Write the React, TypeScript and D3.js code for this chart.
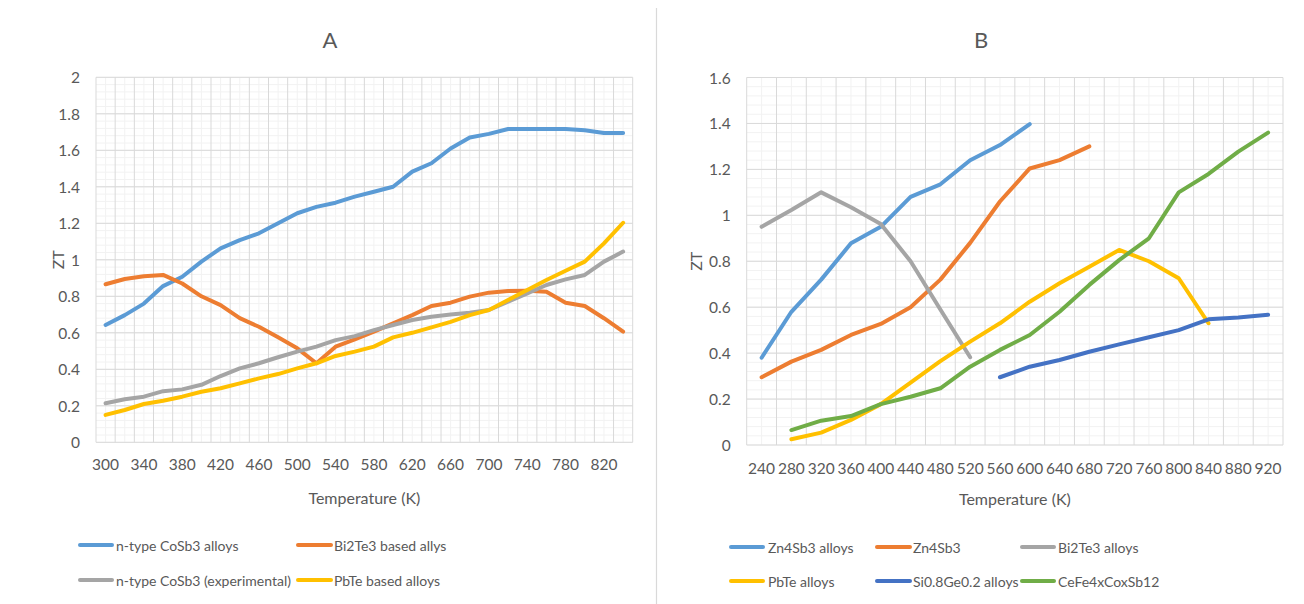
import React from "react";
import * as d3 from "d3";

// ---------- Panel A data ----------
const catsA: number[] = [300, 320, 340, 360, 380, 400, 420, 440, 460, 480, 500, 520, 540, 560, 580, 600, 620, 640, 660, 680, 700, 720, 740, 760, 780, 800, 820, 840];
const coSb3Alloys: number[] = [0.643, 0.697, 0.76, 0.856, 0.907, 0.99, 1.063, 1.108, 1.145, 1.2, 1.255, 1.29, 1.313, 1.346, 1.373, 1.4, 1.483, 1.529, 1.61, 1.67, 1.69, 1.717, 1.717, 1.717, 1.717, 1.71, 1.695, 1.695];
const bi2te3Based: number[] = [0.866, 0.895, 0.91, 0.917, 0.87, 0.8, 0.752, 0.68, 0.633, 0.575, 0.515, 0.433, 0.524, 0.564, 0.606, 0.652, 0.697, 0.747, 0.765, 0.798, 0.82, 0.829, 0.83, 0.825, 0.765, 0.747, 0.68, 0.606];
const coSb3Exp: number[] = [0.214, 0.236, 0.25, 0.28, 0.29, 0.315, 0.363, 0.405, 0.433, 0.466, 0.497, 0.524, 0.56, 0.582, 0.615, 0.643, 0.67, 0.688, 0.7, 0.71, 0.725, 0.77, 0.816, 0.862, 0.893, 0.917, 0.99, 1.045];
const pbteBased: number[] = [0.15, 0.177, 0.21, 0.228, 0.25, 0.277, 0.296, 0.323, 0.35, 0.374, 0.405, 0.433, 0.473, 0.497, 0.524, 0.575, 0.6, 0.63, 0.66, 0.697, 0.725, 0.78, 0.834, 0.889, 0.94, 0.99, 1.09, 1.203];
const yTicksA: number[] = [0, 0.2, 0.4, 0.6, 0.8, 1, 1.2, 1.4, 1.6, 1.8, 2];

// ---------- Panel B data ----------
const catsB: number[] = [240, 280, 320, 360, 400, 440, 480, 520, 560, 600, 640, 680, 720, 760, 800, 840, 880, 920];
const zn4sb3Alloys: (number | null)[] = [0.38, 0.58, 0.72, 0.878, 0.95, 1.08, 1.135, 1.24, 1.306, 1.397, null, null, null, null, null, null, null, null];
const zn4sb3: (number | null)[] = [0.295, 0.363, 0.414, 0.479, 0.527, 0.6, 0.72, 0.88, 1.06, 1.204, 1.24, 1.3, null, null, null, null, null, null];
const bi2te3Alloys: (number | null)[] = [0.95, 1.023, 1.1, 1.035, 0.962, 0.8, 0.59, 0.382, null, null, null, null, null, null, null, null, null, null];
const pbteAlloys: (number | null)[] = [null, 0.025, 0.054, 0.109, 0.178, 0.272, 0.365, 0.45, 0.53, 0.624, 0.704, 0.776, 0.849, 0.8, 0.726, 0.53, null, null];
const siGeAlloys: (number | null)[] = [null, null, null, null, null, null, null, null, 0.295, 0.341, 0.37, 0.406, 0.438, 0.469, 0.5, 0.547, 0.555, 0.567];
const ceFeCoSb: (number | null)[] = [null, 0.065, 0.106, 0.126, 0.178, 0.21, 0.247, 0.341, 0.414, 0.479, 0.58, 0.697, 0.805, 0.9, 1.1, 1.18, 1.277, 1.36];
const yTicksB: number[] = [0, 0.2, 0.4, 0.6, 0.8, 1, 1.2, 1.4, 1.6];

const FONT = "Lato, 'Open Sans', sans-serif";
const TXT = "#595959";
const MAJOR = "#d9d9d9";
const MINOR = "#f2f2f2";

type Series = { name: string; color: string; values: (number | null)[] };

interface PanelProps {
  title: string;
  titleX: number;
  cats: number[];
  series: Series[];
  yMax: number;
  yTicks: number[];
  left: number;
  right: number;
  top: number;
  bottom: number;
  labelEvery: number;
  xLabelY: number;
  xTitleY: number;
  ztX: number;
  legend: { x0: number; x1: number; tx: number; y: number }[];
}

function Panel(p: PanelProps) {
  const x = d3.scaleBand<number>().domain(p.cats).range([p.left, p.right]).padding(0);
  const y = d3.scaleLinear().domain([0, p.yMax]).range([p.bottom, p.top]);
  const bw = x.bandwidth();
  const minorTicks = d3.range(0, p.yMax + 1e-9, 0.04).map((v) => +v.toFixed(2));
  const line = d3
    .line<number | null>()
    .defined((d) => d !== null)
    .x((_, i) => (x(p.cats[i]) as number) + bw / 2)
    .y((d) => y(d as number));

  const boundaries = p.cats.map((c) => x(c) as number).concat([p.right]);

  return (
    <g>
      <text x={p.titleX} y={39} textAnchor="middle" dominantBaseline="central" fontSize={22} fill={TXT} fontFamily={FONT}>
        {p.title}
      </text>
      {minorTicks.map((v, i) => (
        <line key={"mh" + i} x1={p.left} x2={p.right} y1={y(v)} y2={y(v)} stroke={MINOR} strokeWidth={1} />
      ))}
      {p.cats.map((c, i) => (
        <line key={"mv" + i} x1={(x(c) as number) + bw / 2} x2={(x(c) as number) + bw / 2} y1={p.top} y2={p.bottom} stroke={MINOR} strokeWidth={1} />
      ))}
      {p.yTicks.map((v, i) => (
        <line key={"h" + i} x1={p.left} x2={p.right} y1={y(v)} y2={y(v)} stroke={MAJOR} strokeWidth={1} />
      ))}
      {boundaries.map((bx, i) => (
        <line key={"v" + i} x1={bx} x2={bx} y1={p.top} y2={p.bottom} stroke={MAJOR} strokeWidth={1} />
      ))}
      {p.yTicks.map((v, i) => (
        <text key={"yl" + i} x={p.left - 16} y={y(v)} textAnchor="end" dominantBaseline="central" fontSize={15.5} fill={TXT} fontFamily={FONT}>
          {String(v)}
        </text>
      ))}
      {p.cats.map((c, i) =>
        i % p.labelEvery === 0 ? (
          <text key={"xl" + i} x={(x(c) as number) + bw / 2} y={p.xLabelY} textAnchor="middle" dominantBaseline="central" fontSize={15.5} fill={TXT} fontFamily={FONT}>
            {String(c)}
          </text>
        ) : null
      )}
      <text x={(p.left + p.right) / 2} y={p.xTitleY} textAnchor="middle" dominantBaseline="central" fontSize={16} fill={TXT} fontFamily={FONT}>
        Temperature (K)
      </text>
      <text
        transform={`translate(${p.ztX},${(p.top + p.bottom) / 2}) rotate(-90)`}
        textAnchor="middle"
        dominantBaseline="central"
        fontSize={16}
        fill={TXT}
        fontFamily={FONT}
      >
        ZT
      </text>
      {p.series.map((s, i) => (
        <path key={"s" + i} d={line(s.values) || ""} fill="none" stroke={s.color} strokeWidth={4} strokeLinejoin="round" strokeLinecap="round" />
      ))}
      {p.series.map((s, i) => {
        const L = p.legend[i];
        return (
          <g key={"lg" + i}>
            <line x1={L.x0} x2={L.x1} y1={L.y} y2={L.y} stroke={s.color} strokeWidth={4} strokeLinecap="round" />
            <text x={L.tx} y={L.y} dominantBaseline="central" fontSize={14} fill={TXT} fontFamily={FONT}>
              {s.name}
            </text>
          </g>
        );
      })}
    </g>
  );
}

export default function App() {
  const seriesA: Series[] = [
    { name: "n-type CoSb3 alloys", color: "#5B9BD5", values: coSb3Alloys },
    { name: "Bi2Te3 based allys", color: "#ED7D31", values: bi2te3Based },
    { name: "n-type CoSb3 (experimental)", color: "#A5A5A5", values: coSb3Exp },
    { name: "PbTe based alloys", color: "#FFC000", values: pbteBased },
  ];
  const seriesB: Series[] = [
    { name: "Zn4Sb3 alloys", color: "#5B9BD5", values: zn4sb3Alloys },
    { name: "Zn4Sb3", color: "#ED7D31", values: zn4sb3 },
    { name: "Bi2Te3 alloys", color: "#A5A5A5", values: bi2te3Alloys },
    { name: "PbTe alloys", color: "#FFC000", values: pbteAlloys },
    { name: "Si0.8Ge0.2 alloys", color: "#4472C4", values: siGeAlloys },
    { name: "CeFe4xCoxSb12", color: "#70AD47", values: ceFeCoSb },
  ];
  return (
    <svg width={1304} height={604} style={{ position: "absolute", left: 0, top: 0, background: "#fff" }}>
      <rect x={0} y={0} width={1304} height={604} fill="#fff" />
      <line x1={656.5} x2={656.5} y1={8} y2={604} stroke={MAJOR} strokeWidth={1.2} />
      <Panel
        title="A"
        titleX={330}
        cats={catsA}
        series={seriesA}
        yMax={2}
        yTicks={yTicksA}
        left={96}
        right={632.7}
        top={77.3}
        bottom={442.3}
        labelEvery={2}
        xLabelY={464}
        xTitleY={497}
        ztX={57}
        legend={[
          { x0: 80, x1: 112, tx: 116, y: 545 },
          { x0: 298, x1: 331, tx: 334, y: 545 },
          { x0: 80, x1: 112, tx: 116, y: 580 },
          { x0: 298, x1: 331, tx: 334, y: 580 },
        ]}
      />
      <Panel
        title="B"
        titleX={981}
        cats={catsB}
        series={seriesB}
        yMax={1.6}
        yTicks={yTicksB}
        left={746.7}
        right={1283}
        top={77.5}
        bottom={445}
        labelEvery={1}
        xLabelY={468}
        xTitleY={498}
        ztX={695}
        legend={[
          { x0: 731, x1: 763, tx: 768, y: 547 },
          { x0: 877, x1: 910, tx: 913, y: 547 },
          { x0: 1022, x1: 1054, tx: 1058, y: 547 },
          { x0: 731, x1: 763, tx: 768, y: 581 },
          { x0: 877, x1: 910, tx: 913, y: 581 },
          { x0: 1022, x1: 1054, tx: 1058, y: 581 },
        ]}
      />
    </svg>
  );
}
